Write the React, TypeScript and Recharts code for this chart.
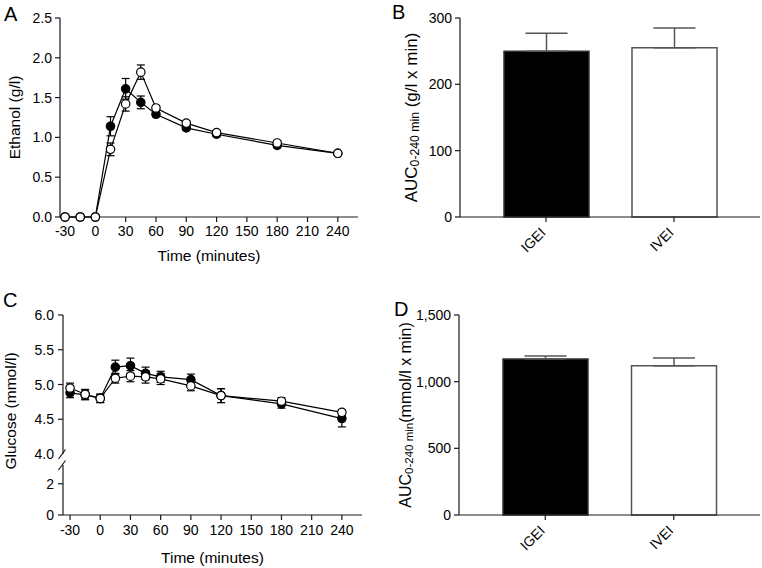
import { Bar, BarChart, Cell, ErrorBar, Label, Line, LineChart, XAxis, YAxis } from "recharts";

const times = [-30, -15, 0, 15, 30, 45, 60, 90, 120, 180, 240];
const timeTicks = [-30, 0, 30, 60, 90, 120, 150, 180, 210, 240];

const ethanolIGEI = [0, 0, 0, 1.14, 1.61, 1.44, 1.29, 1.12, 1.04, 0.9, 0.8];
const ethanolIGEIErr = [0, 0, 0, 0.12, 0.13, 0.08, 0.03, 0.03, 0.03, 0.03, 0.02];
const ethanolIVEI = [0, 0, 0, 0.85, 1.42, 1.82, 1.37, 1.18, 1.06, 0.93, 0.8];
const ethanolIVEIErr = [0, 0, 0, 0.08, 0.09, 0.09, 0.03, 0.03, 0.03, 0.03, 0.02];

const glucoseIGEI = [4.88, 4.85, 4.8, 5.25, 5.27, 5.16, 5.11, 5.07, 4.84, 4.72, 4.51];
const glucoseIGEIErr = [0.07, 0.07, 0.06, 0.1, 0.11, 0.09, 0.08, 0.08, 0.1, 0.06, 0.12];
const glucoseIVEI = [4.95, 4.86, 4.8, 5.09, 5.12, 5.11, 5.08, 4.98, 4.84, 4.76, 4.6];
const glucoseIVEIErr = [0.07, 0.07, 0.06, 0.07, 0.08, 0.09, 0.08, 0.07, 0.1, 0.05, 0.04];

const groups = ["IGEI", "IVEI"];
const ethanolAUC = [250, 255];
const ethanolAUCErr = [27, 30];
const glucoseAUC = [1170, 1120];
const glucoseAUCErr = [22, 58];

const ethanolTicks = [0, 0.5, 1, 1.5, 2, 2.5];
const glucoseUpperTicks = [4, 4.5, 5, 5.5, 6];
const glucoseLowerTicks = [0, 2, 3.2];
const ethanolAUCTicks = [0, 100, 200, 300];
const glucoseAUCTicks = [0, 500, 1000, 1500];

const FONT = '"Liberation Sans", Arial, Helvetica, sans-serif';
const INK = "#1a1a1a";
const GREY = "#555";

const ethanolRows = times.map((t, i) => ({
  t,
  igei: ethanolIGEI[i],
  igeiErr: ethanolIGEIErr[i],
  ivei: ethanolIVEI[i],
  iveiErr: ethanolIVEIErr[i],
}));

const glucoseRows = times.map((t, i) => ({
  t,
  igei: glucoseIGEI[i],
  igeiErr: glucoseIGEIErr[i],
  ivei: glucoseIVEI[i],
  iveiErr: glucoseIVEIErr[i],
}));

const ethanolBars = groups.map((g, i) => ({ g, v: ethanolAUC[i], err: [0, ethanolAUCErr[i]] }));
const glucoseBars = groups.map((g, i) => ({ g, v: glucoseAUC[i], err: [0, glucoseAUCErr[i]] }));

const tickStyle = { fill: "#000", fontSize: 14 };

function VerticalTitle({ viewBox, cx, cy, children }: any) {
  const x = cx;
  const y = cy ?? viewBox.y + viewBox.height / 2;
  return (
    <text
      x={x}
      y={y}
      transform={`rotate(-90 ${x} ${y})`}
      textAnchor="middle"
      dominantBaseline="central"
      fontSize={15.5}
      fill="#000"
    >
      {children}
    </text>
  );
}

function AucTitle({ viewBox, cx, unit, size }: any) {
  const x = cx;
  const y = viewBox.y + viewBox.height / 2;
  return (
    <text
      x={x}
      y={y}
      transform={`rotate(-90 ${x} ${y})`}
      textAnchor="middle"
      dominantBaseline="central"
      fontSize={size}
      fill="#000"
    >
      AUC
      <tspan fontSize={size * 0.72} dy={4}>
        0-240 min
      </tspan>
      <tspan dy={-4}>{unit}</tspan>
    </text>
  );
}

function BottomTitle({ viewBox, dy }: any) {
  return (
    <text
      x={viewBox.x + viewBox.width / 2}
      y={viewBox.y + dy}
      textAnchor="middle"
      dominantBaseline="central"
      fontSize={15.5}
      fill="#000"
    >
      Time (minutes)
    </text>
  );
}

function RotatedTick({ x, y, payload }: any) {
  const ax = x - 3;
  const ay = y + 6;
  return (
    <text
      x={ax}
      y={ay}
      transform={`rotate(-45 ${ax} ${ay})`}
      textAnchor="end"
      dominantBaseline="central"
      fontSize={14}
      fill="#000"
    >
      {payload.value}
    </text>
  );
}

// glucose axis ticks: tick lines drawn here so the break can replace one
function BrokenTick({ x, y, payload, breakAt, digits }: any) {
  const axisX = x + 9;
  const isBreak = payload.value === breakAt;
  const showText = !(isBreak && digits === 0);
  return (
    <g>
      {isBreak ? (
        <line x1={axisX - 4.5} y1={y + 5} x2={axisX + 2.5} y2={y - 4.5} stroke={INK} strokeWidth={1.2} />
      ) : (
        <line x1={axisX - 5} y1={y} x2={axisX} y2={y} stroke={INK} strokeWidth={1.2} />
      )}
      {showText && (
        <text x={x} y={y} textAnchor="end" dominantBaseline="central" fontSize={14} fill="#000">
          {payload.value.toFixed(digits)}
        </text>
      )}
    </g>
  );
}

function PanelLetter({ letter, left, top }: { letter: string; left: number; top: number }) {
  return (
    <div style={{ position: "absolute", left, top, fontSize: 20, lineHeight: "20px", color: "#000" }}>
      {letter}
    </div>
  );
}

const filledDot = { r: 4.2, fill: "#000", stroke: "#000", strokeWidth: 1.2 };
const openDot = { r: 4.2, fill: "#fff", stroke: "#000", strokeWidth: 1.2 };

export default function App() {
  return (
    <div style={{ position: "relative", width: 762, height: 568, background: "#fff", fontFamily: FONT }}>
      <style>{"body{margin:0}"}</style>

      {/* A: ethanol time course */}
      <div style={{ position: "absolute", left: 0, top: 0 }}>
        <LineChart width={380} height={280} data={ethanolRows} margin={{ top: 18, right: 22, bottom: 0, left: 0 }}>
          <XAxis
            type="number"
            dataKey="t"
            domain={[-35, 260]}
            ticks={timeTicks}
            interval={0}
            allowDataOverflow
            height={63}
            stroke={INK}
            strokeWidth={1.2}
            tickSize={5}
            tickMargin={4}
            tick={tickStyle}
          >
            <Label content={(p: any) => <BottomTitle {...p} dy={38} />} />
          </XAxis>
          <YAxis
            domain={[0, 2.5]}
            ticks={ethanolTicks}
            interval={0}
            width={60}
            stroke={INK}
            strokeWidth={1.2}
            tickSize={5}
            tickMargin={3}
            tick={tickStyle}
            tickFormatter={(v: number) => v.toFixed(1)}
          >
            <Label content={(p: any) => <VerticalTitle {...p} cx={14}>Ethanol (g/l)</VerticalTitle>} />
          </YAxis>
          <Line dataKey="igei" stroke="#000" strokeWidth={1.2} dot={filledDot} activeDot={false} isAnimationActive={false}>
            <ErrorBar dataKey="igeiErr" width={4} stroke="#000" strokeWidth={1.2} />
          </Line>
          <Line dataKey="ivei" stroke="#000" strokeWidth={1.2} dot={openDot} activeDot={false} isAnimationActive={false}>
            <ErrorBar dataKey="iveiErr" width={4} stroke="#000" strokeWidth={1.2} />
          </Line>
        </LineChart>
      </div>

      {/* B: ethanol AUC */}
      <div style={{ position: "absolute", left: 380, top: 0 }}>
        <BarChart width={382} height={280} data={ethanolBars} margin={{ top: 18, right: 2, bottom: 0, left: 0 }}>
          <XAxis
            dataKey="g"
            padding={{ left: 22, right: 22 }}
            height={63}
            interval={0}
            stroke={INK}
            strokeWidth={1.2}
            tickSize={5}
            tickMargin={2}
            tick={<RotatedTick />}
          />
          <YAxis
            domain={[0, 300]}
            ticks={ethanolAUCTicks}
            interval={0}
            width={80}
            stroke={INK}
            strokeWidth={1.2}
            tickSize={5}
            tickMargin={3}
            tick={tickStyle}
          >
            <Label content={(p: any) => <AucTitle {...p} cx={31} size={17} unit=" (g/l x min)" />} />
          </YAxis>
          <Bar dataKey="v" barSize={85} strokeWidth={1.5} isAnimationActive={false}>
            <Cell fill="#000" stroke="#333" />
            <Cell fill="#fff" stroke={GREY} />
            <ErrorBar dataKey="err" width={21} stroke={GREY} strokeWidth={1.5} />
          </Bar>
        </BarChart>
      </div>

      {/* C: glucose, lower segment of broken axis with x axis */}
      <div style={{ position: "absolute", left: 0, top: 297 }}>
        <LineChart width={380} height={271} data={glucoseRows} margin={{ top: 168, right: 18, bottom: 0, left: 0 }}>
          <XAxis
            type="number"
            dataKey="t"
            domain={[-37, 260]}
            ticks={timeTicks}
            interval={0}
            allowDataOverflow
            height={53}
            stroke={INK}
            strokeWidth={1.2}
            tickSize={5}
            tickMargin={5}
            tick={tickStyle}
          >
            <Label content={(p: any) => <BottomTitle {...p} dy={42} />} />
          </XAxis>
          <YAxis
            dataKey="igei"
            domain={[0, 3.2]}
            allowDataOverflow
            ticks={glucoseLowerTicks}
            interval={0}
            width={63}
            stroke={INK}
            strokeWidth={1.2}
            tickLine={false}
            tickSize={5}
            tickMargin={4}
            tick={<BrokenTick breakAt={3.2} digits={0} />}
          >
            <Label content={(p: any) => <VerticalTitle {...p} cx={10} cy={114}>Glucose (mmol/l)</VerticalTitle>} />
          </YAxis>
        </LineChart>
      </div>

      {/* C: glucose, upper segment holding the data */}
      <div style={{ position: "absolute", left: 0, top: 297 }}>
        <LineChart width={380} height={167} data={glucoseRows} margin={{ top: 18, right: 18, bottom: 10, left: 0 }}>
          <XAxis type="number" dataKey="t" domain={[-37, 260]} allowDataOverflow hide />
          <YAxis
            domain={[4, 6]}
            ticks={glucoseUpperTicks}
            interval={0}
            width={63}
            stroke={INK}
            strokeWidth={1.2}
            tickLine={false}
            tickSize={5}
            tickMargin={4}
            tick={<BrokenTick breakAt={4} digits={1} />}
          />
          <Line dataKey="igei" stroke="#000" strokeWidth={1.2} dot={filledDot} activeDot={false} isAnimationActive={false}>
            <ErrorBar dataKey="igeiErr" width={4} stroke="#000" strokeWidth={1.2} />
          </Line>
          <Line dataKey="ivei" stroke="#000" strokeWidth={1.2} dot={openDot} activeDot={false} isAnimationActive={false}>
            <ErrorBar dataKey="iveiErr" width={4} stroke="#000" strokeWidth={1.2} />
          </Line>
        </LineChart>
      </div>

      {/* D: glucose AUC */}
      <div style={{ position: "absolute", left: 380, top: 297 }}>
        <BarChart width={382} height={271} data={glucoseBars} margin={{ top: 18, right: 2, bottom: 0, left: 0 }}>
          <XAxis
            dataKey="g"
            padding={{ left: 22, right: 22 }}
            height={53}
            interval={0}
            stroke={INK}
            strokeWidth={1.2}
            tickSize={5}
            tickMargin={2}
            tick={<RotatedTick />}
          />
          <YAxis
            domain={[0, 1500]}
            ticks={glucoseAUCTicks}
            interval={0}
            width={79}
            stroke={INK}
            strokeWidth={1.2}
            tickSize={5}
            tickMargin={3}
            tick={tickStyle}
            tickFormatter={(v: number) => v.toLocaleString("en-US")}
          >
            <Label content={(p: any) => <AucTitle {...p} cx={25} size={16} unit="(mmol/l x min)" />} />
          </YAxis>
          <Bar dataKey="v" barSize={85} strokeWidth={1.5} isAnimationActive={false}>
            <Cell fill="#000" stroke="#333" />
            <Cell fill="#fff" stroke={GREY} />
            <ErrorBar dataKey="err" width={21} stroke={GREY} strokeWidth={1.5} />
          </Bar>
        </BarChart>
      </div>

      <PanelLetter letter="A" left={4} top={4} />
      <PanelLetter letter="B" left={392} top={2} />
      <PanelLetter letter="C" left={3} top={290} />
      <PanelLetter letter="D" left={394} top={299} />
    </div>
  );
}
